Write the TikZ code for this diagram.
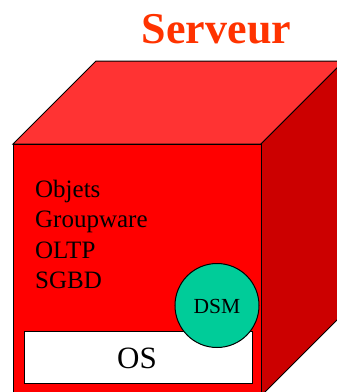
\documentclass[tikz,border=0pt]{standalone}
\usepackage{fontspec}
\setmainfont{Liberation Serif}
\definecolor{frontred}{RGB}{255,0,0}
\definecolor{topred}{RGB}{255,51,51}
\definecolor{sidered}{RGB}{204,0,0}
\definecolor{titleorange}{RGB}{255,51,0}
\definecolor{dsmgreen}{RGB}{0,204,153}
\tikzset{
  face/.style={draw=black, line width=1pt, line join=miter},
  listtext/.style={anchor=base west, inner sep=0pt, font=\fontsize{25}{30}\selectfont},
}
\begin{document}
\begin{tikzpicture}[x=1pt, y=-1pt]
\useasboundingbox (0,0) rectangle (337,392);
\clip (0,0) rectangle (337,392);
% server cube
\fill[face, fill=topred] (13,144) -- (96,61) -- (344,61) -- (261,144) -- cycle;
\fill[face, fill=sidered] (261,144) -- (344,61) -- (344,313) -- (261,396) -- cycle;
\fill[face, fill=frontred] (13,144) rectangle (261,396);
% title
\node[anchor=base, inner sep=0pt, text=titleorange, font=\fontsize{44}{50}\selectfont\bfseries] (title) at (216.5,43.5) {Serveur};
% services list
\node[listtext] (objets) at (35,197.3) {Objets};
\node[listtext] (groupware) at (35,227.5) {Groupware};
\node[listtext] (oltp) at (35,258.5) {OLTP};
\node[listtext] (sgbd) at (35,288.5) {SGBD};
% operating system layer
\node[draw=black, line width=1pt, fill=white, minimum width=227.5pt, minimum height=51.5pt, inner sep=0pt, anchor=north west] (osbox) at (24,331) {};
\node[anchor=base, inner sep=0pt, font=\fontsize{31}{36}\selectfont] (os) at (137,368.3) {OS};
% distributed shared memory
\node[circle, draw=black, line width=1pt, fill=dsmgreen, minimum size=84pt, inner sep=0pt] (dsm) at (217,305.5) {};
\node[anchor=base, inner sep=0pt, font=\fontsize{21.5}{25}\selectfont] (dsmtext) at (217,313.3) {DSM};
\end{tikzpicture}
\end{document}
